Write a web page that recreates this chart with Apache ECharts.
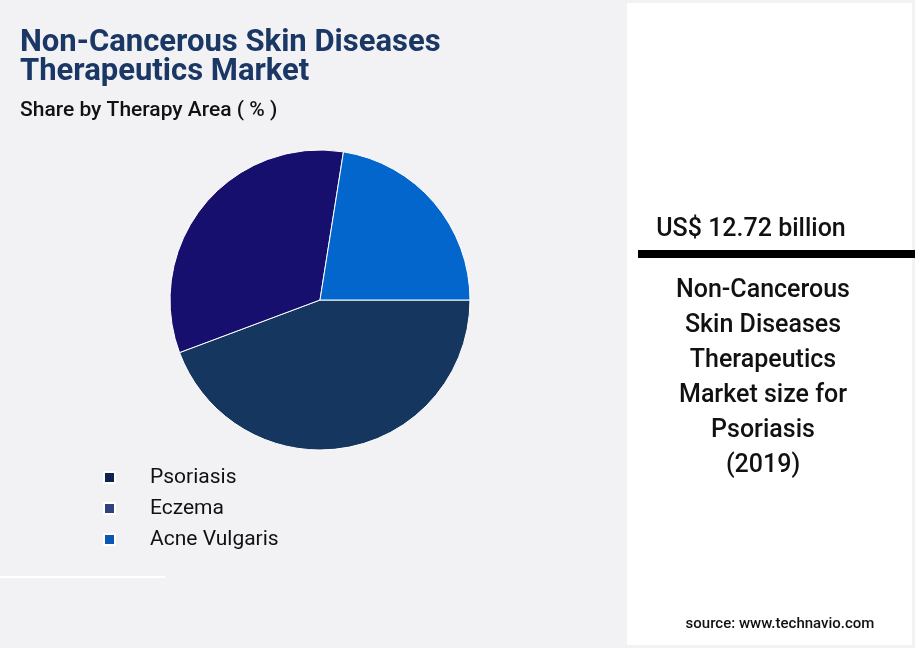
<!DOCTYPE html>
<html><head><meta charset="utf-8">
<script src="https://cdn.jsdelivr.net/npm/echarts@6/dist/echarts.min.js"></script>
<style>html,body{margin:0;padding:0;background:#f2f2f5}#c{width:915px;height:648px}</style>
</head><body><div id="c"></div>
<script>
const categories = ["Psoriasis", "Eczema", "Acne Vulgaris"];
const values = [44.3, 33.2, 22.5];
const sliceColors = ["#15365f", "#170f6e", "#0366cc"];
const legendColors = ["#0f2250", "#2e4180", "#0a58b0"];
const chart = echarts.init(document.getElementById('c'));
const F = 'Roboto, sans-serif';
chart.setOption({
  backgroundColor: '#f2f2f5',
  animation: false,
  graphic: [
    {type:'rect', shape:{x:627,y:3,width:285,height:642}, style:{fill:'#ffffff'}},
    {type:'rect', shape:{x:0,y:576,width:165,height:2}, style:{fill:'#ffffff'}},
    {type:'rect', shape:{x:638,y:250,width:277,height:8}, style:{fill:'#000000'}},
    {type:'text', left:20, top:28, style:{text:'Non-Cancerous Skin Diseases\nTherapeutics Market', font:'bold 31px '+F, fill:'#1b3766', lineHeight:29}},
    {type:'text', left:20, top:100, style:{text:'Share by Therapy Area ( % )', font:'500 21px '+F, fill:'#111'}},
    {type:'text', x:751, y:230, style:{text:'US$ 12.72 billion', font:'500 25px '+F, fill:'#111', align:'center', verticalAlign:'middle'}},
    {type:'text', x:763, y:273, style:{text:'Non-Cancerous\nSkin Diseases\nTherapeutics\nMarket size for\nPsoriasis\n(2019)', font:'500 25px '+F, fill:'#111', align:'center', lineHeight:35}},
    {type:'text', x:780, y:624, style:{text:'source: www.technavio.com', font:'500 15px '+F, fill:'#111', align:'center', verticalAlign:'middle'}}
  ],
  legend: {
    orient:'vertical', left:98, top:462, itemWidth:11, itemHeight:11, itemGap:10, icon:'rect',
    textStyle:{fontFamily:F, fontSize:21, color:'#111', padding:[0,0,0,30]},
    data: categories.map((n,i)=>({name:n, itemStyle:{color:legendColors[i]}}))
  },
  series: [{
    type:'pie', center:[320,300], radius:150, startAngle:0, clockwise:true,
    label:{show:false}, labelLine:{show:false},
    itemStyle:{borderColor:'#ffffff', borderWidth:1},
    data: categories.map((n,i)=>({name:n, value:values[i], itemStyle:{color:sliceColors[i]}}))
  }]
});
</script></body></html>
